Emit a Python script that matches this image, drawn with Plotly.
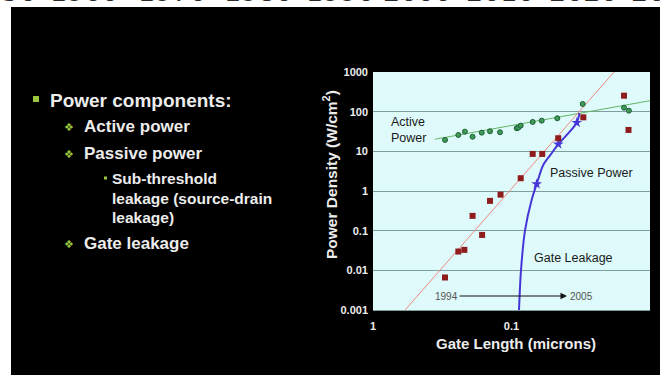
import plotly.graph_objects as go

# ---------------- data ----------------
active_x = [0.302, 0.242, 0.217, 0.191, 0.164, 0.143, 0.121, 0.0917, 0.0893, 0.0858,
            0.0703, 0.0605, 0.0467, 0.0306, 0.0154, 0.0142]
active_y = [19.4, 25.9, 31.3, 23.4, 29.6, 32.1, 30.3, 38.2, 39.5, 44.4,
            55.1, 59.3, 68.2, 156, 126, 106]
active_fit_x = [0.357, 0.01]
active_fit_y = [20.2, 189]

passive_x = [0.302, 0.242, 0.219, 0.191, 0.163, 0.143, 0.120, 0.0858, 0.0703, 0.060,
             0.046, 0.0303, 0.0154, 0.0143]
passive_y = [0.0066, 0.0298, 0.0328, 0.236, 0.078, 0.563, 0.81, 2.1, 8.6, 8.6,
             21.4, 72, 253, 34.6]
passive_fit_x = [0.587, 0.0182]
passive_fit_y = [0.001, 1000]

gate_x = [0.0883, 0.0854, 0.0799, 0.0715, 0.0658, 0.059, 0.0513, 0.0459, 0.0399, 0.0338, 0.0323]
gate_y = [0.001, 0.01, 0.1, 0.6, 1.5, 4.54, 8.96, 15.1, 25.9, 52.8, 92.7]
gate_star_x = [0.0658, 0.0459, 0.0338]
gate_star_y = [1.5, 15.1, 52.8]

y_tickvals = [0.001, 0.01, 0.1, 1, 10, 100, 1000]
y_ticktext = ["0.001", "0.01", "0.1", "1", "10", "100", "1000"]
x_tickvals = [1, 0.1, 0.01]
x_ticktext = ["1", "0.1", "0.01"]

top_years = ["1950", "1960", "1970", "1980", "1990", "2000", "2010", "2020", "2030"]
slide_lines = [
    ("Power components:", 0),
    ("Active power", 1),
    ("Passive power", 1),
    ("Sub-threshold", 2),
    ("leakage (source-drain", 3),
    ("leakage)", 3),
    ("Gate leakage", 1),
]

# ---------------- layout helpers (pixel -> paper) ----------------
L, R, T, B = 373, 650, 72, 310
W, H = 660, 375
def fx(px):
    return (px - L) / (R - L)
def fy(py):
    return (B - py) / (B - T)

TXT = "#ececec"
BUL = "#9cc63e"

fig = go.Figure()

fig.add_trace(go.Scatter(x=active_fit_x, y=active_fit_y, mode="lines",
                         line=dict(color="#62b862", width=1), showlegend=False))
fig.add_trace(go.Scatter(x=passive_fit_x, y=passive_fit_y, mode="lines",
                         line=dict(color="#f08a80", width=1), showlegend=False))
fig.add_trace(go.Scatter(x=gate_x, y=gate_y, mode="lines",
                         line=dict(color="#4636d8", width=2, shape="spline", smoothing=0.8),
                         showlegend=False))
fig.add_trace(go.Scatter(x=gate_star_x, y=gate_star_y, mode="markers",
                         marker=dict(symbol="star", size=8, color="#4636d8"),
                         showlegend=False))
fig.add_trace(go.Scatter(x=active_x, y=active_y, mode="markers",
                         marker=dict(symbol="circle", size=5, color="#3f9a5a",
                                     line=dict(color="#1f5f35", width=1)),
                         showlegend=False))
fig.add_trace(go.Scatter(x=passive_x, y=passive_y, mode="markers",
                         marker=dict(symbol="square", size=6, color="#8e1c1c"),
                         showlegend=False))

shapes = [
    # white page strips around the black slide
    dict(type="rect", xref="paper", yref="paper", x0=fx(-5), x1=fx(W + 5),
         y0=fy(7), y1=fy(-5), fillcolor="white", line=dict(width=0), layer="below"),
    dict(type="rect", xref="paper", yref="paper", x0=fx(-5), x1=fx(11),
         y0=fy(H + 5), y1=fy(-5), fillcolor="white", line=dict(width=0), layer="below"),
    # square bullet
    dict(type="rect", xref="paper", yref="paper", x0=fx(33), x1=fx(39),
         y0=fy(102), y1=fy(96), fillcolor=BUL, line=dict(width=0), layer="below"),
    # small dot bullet
    dict(type="rect", xref="paper", yref="paper", x0=fx(104), x1=fx(107),
         y0=fy(179.5), y1=fy(176.5), fillcolor=BUL, line=dict(width=0), layer="below"),
]

annotations = []
# clipped year labels at the very top
year_px = [3, 84, 172, 258, 340, 417, 500, 583, 665]
for yr, xp in zip(top_years, year_px):
    annotations.append(dict(text=yr, xref="paper", yref="paper", x=fx(xp), y=fy(9),
                            xanchor="center", yanchor="bottom", showarrow=False,
                            font=dict(family="DejaVu Sans", size=27, color="#2a2a2a")))

# slide bullet text
line_y = [100, 126, 153, 178, 198, 217, 243]
line_x = {0: 48, 1: 82, 2: 110, 3: 110}
line_size = {0: 19, 1: 17, 2: 15.5, 3: 15.5}
for (txt, lvl), yp in zip(slide_lines, line_y):
    annotations.append(dict(text="<b>" + txt + "</b>", xref="paper", yref="paper",
                            x=fx(line_x[lvl]), y=fy(yp), xanchor="left", yanchor="middle",
                            showarrow=False,
                            font=dict(family="Arial", size=line_size[lvl], color=TXT)))
    if lvl == 1:
        annotations.append(dict(text="❖", xref="paper", yref="paper",
                                x=fx(68.5), y=fy(yp + 1), xanchor="center", yanchor="middle",
                                showarrow=False,
                                font=dict(family="DejaVu Sans", size=11, color=BUL)))

# chart labels
annotations += [
    dict(text="Active<br>Power", xref="paper", yref="paper", x=fx(389), y=fy(130),
         xanchor="left", yanchor="middle", align="left", showarrow=False,
         font=dict(family="Arial", size=12.5, color="#1a1a1a")),
    dict(text="Passive Power", xref="paper", yref="paper", x=fx(548), y=fy(173),
         xanchor="left", yanchor="middle", showarrow=False,
         font=dict(family="Arial", size=12.5, color="#1a1a1a")),
    dict(text="Gate Leakage", xref="paper", yref="paper", x=fx(532), y=fy(258),
         xanchor="left", yanchor="middle", showarrow=False,
         font=dict(family="Arial", size=12.5, color="#1a1a1a")),
    dict(text="1994", xref="paper", yref="paper", x=fx(433), y=fy(296),
         xanchor="left", yanchor="middle", showarrow=False,
         font=dict(family="Arial", size=10, color="#555555")),
    dict(text="2005", xref="paper", yref="paper", x=fx(568), y=fy(296),
         xanchor="left", yanchor="middle", showarrow=False,
         font=dict(family="Arial", size=10, color="#555555")),
    dict(text="", xref="paper", yref="paper", x=fx(567), y=fy(296),
         axref="pixel", ayref="pixel", ax=-109, ay=0,
         showarrow=True, arrowhead=2, arrowsize=1.3, arrowwidth=1, arrowcolor="#111111"),
    dict(text="<b>Power Density (W/cm<sup>2</sup>)</b>", xref="paper", yref="paper",
         x=fx(330), y=fy(175), xanchor="center", yanchor="middle", textangle=-90,
         showarrow=False, font=dict(family="Arial", size=15.5, color=TXT)),
    dict(text="<b>Gate Length (microns)</b>", xref="paper", yref="paper",
         x=fx(516), y=fy(343), xanchor="center", yanchor="middle",
         showarrow=False, font=dict(family="Arial", size=15, color=TXT)),
]

fig.update_layout(
    width=W, height=H, autosize=False,
    margin=dict(l=L, r=W - R, t=T, b=H - B, pad=0),
    paper_bgcolor="black",
    plot_bgcolor="#dffafa",
    shapes=shapes,
    annotations=annotations,
    showlegend=False,
)
fig.update_xaxes(type="log", range=[0, -2], tickvals=x_tickvals, ticktext=x_ticktext,
                 showgrid=False, zeroline=False, showline=True, linecolor="#7f9e9e",
                 ticks="", ticklabelstandoff=6,
                 tickfont=dict(family="Arial", size=11, color=TXT, weight="bold"))
fig.update_yaxes(type="log", range=[-3, 3], tickvals=y_tickvals, ticktext=y_ticktext,
                 showgrid=True, gridcolor="#7f9e9e", gridwidth=1, zeroline=False,
                 showline=False, ticks="", ticklabelstandoff=4,
                 tickfont=dict(family="Arial", size=11, color=TXT, weight="bold"))

fig.write_html("out.html")
